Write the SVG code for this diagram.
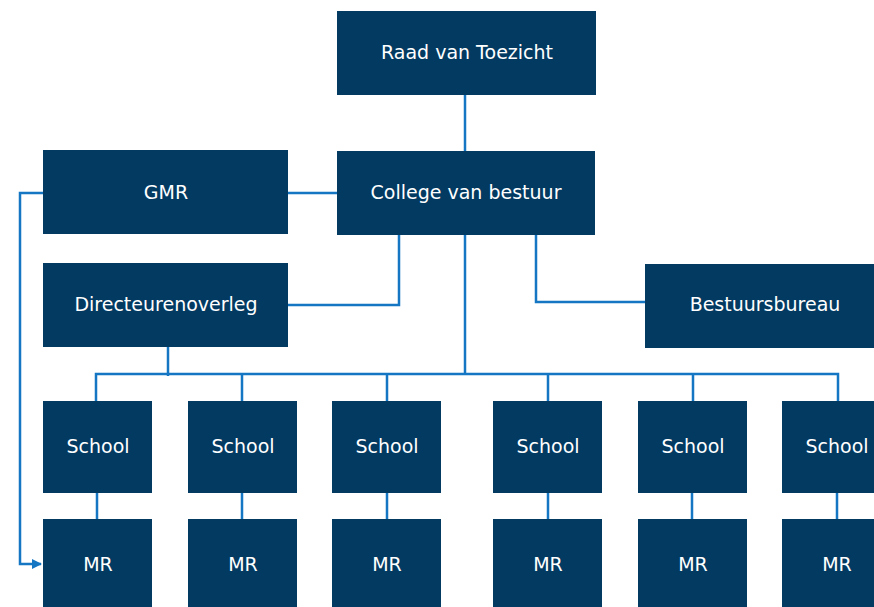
<svg xmlns="http://www.w3.org/2000/svg" width="874" height="607" viewBox="0 0 874 607">
<style>
.box{fill:#033a62}
.t{fill:#ffffff;font-family:"DejaVu Sans",sans-serif;font-size:19px;text-anchor:middle;dominant-baseline:central;letter-spacing:0px}
.c{stroke:#1576c4;stroke-width:2.5;fill:none}
</style>
<defs>
<marker id="ah" viewBox="0 0 10 10" refX="9" refY="5" markerWidth="4" markerHeight="4" orient="auto" markerUnits="strokeWidth">
<path d="M0,0 L10,5 L0,10 z" fill="#1576c4"/>
</marker>
</defs>
<rect width="874" height="607" fill="#ffffff"/>
<g id="connectors">
<path class="c" d="M465,95 V151"/>
<path class="c" d="M288,193 H337"/>
<path class="c" d="M43,193 H20 V564 H41" marker-end="url(#ah)"/>
<path class="c" d="M288,305 H399 V235"/>
<path class="c" d="M536,235 V302 H646"/>
<path class="c" d="M465,235 V374"/>
<path class="c" d="M168,347 V376"/>
<path class="c" d="M96,401 V374 H838 V401"/>
<path class="c" d="M242,374 V401 M387,374 V401 M548,374 V401 M693,374 V401"/>
<path class="c" d="M97,493 V519 M242,493 V519 M387,493 V519 M548,493 V519 M692,493 V519 M837,493 V519"/>
</g>
<g id="raad"><rect class="box" x="337" y="11" width="259" height="84"/><text class="t" x="467" y="52">Raad van Toezicht</text></g>
<g id="college"><rect class="box" x="337" y="151" width="258" height="84"/><text class="t" x="466" y="192">College van bestuur</text></g>
<g id="gmr"><rect class="box" x="43" y="150" width="245" height="84"/><text class="t" x="166" y="192">GMR</text></g>
<g id="directeurenoverleg"><rect class="box" x="43" y="263" width="245" height="84"/><text class="t" x="166" y="304">Directeurenoverleg</text></g>
<g id="bestuursbureau"><rect class="box" x="645" y="264" width="229" height="84"/><text class="t" x="765" y="304">Bestuursbureau</text></g>
<g id="school1"><rect class="box" x="43" y="401" width="109" height="92"/><text class="t" x="98" y="446">School</text></g>
<g id="school2"><rect class="box" x="188" y="401" width="109" height="92"/><text class="t" x="243" y="446">School</text></g>
<g id="school3"><rect class="box" x="332" y="401" width="109" height="92"/><text class="t" x="387" y="446">School</text></g>
<g id="school4"><rect class="box" x="493" y="401" width="109" height="92"/><text class="t" x="548" y="446">School</text></g>
<g id="school5"><rect class="box" x="638" y="401" width="109" height="92"/><text class="t" x="693" y="446">School</text></g>
<g id="school6"><rect class="box" x="782" y="401" width="109" height="92"/><text class="t" x="837" y="446">School</text></g>
<g id="mr1"><rect class="box" x="43" y="519" width="109" height="95"/><text class="t" x="98" y="564">MR</text></g>
<g id="mr2"><rect class="box" x="188" y="519" width="109" height="95"/><text class="t" x="243" y="564">MR</text></g>
<g id="mr3"><rect class="box" x="332" y="519" width="109" height="95"/><text class="t" x="387" y="564">MR</text></g>
<g id="mr4"><rect class="box" x="493" y="519" width="109" height="95"/><text class="t" x="548" y="564">MR</text></g>
<g id="mr5"><rect class="box" x="638" y="519" width="109" height="95"/><text class="t" x="693" y="564">MR</text></g>
<g id="mr6"><rect class="box" x="782" y="519" width="109" height="95"/><text class="t" x="837" y="564">MR</text></g>
</svg>
